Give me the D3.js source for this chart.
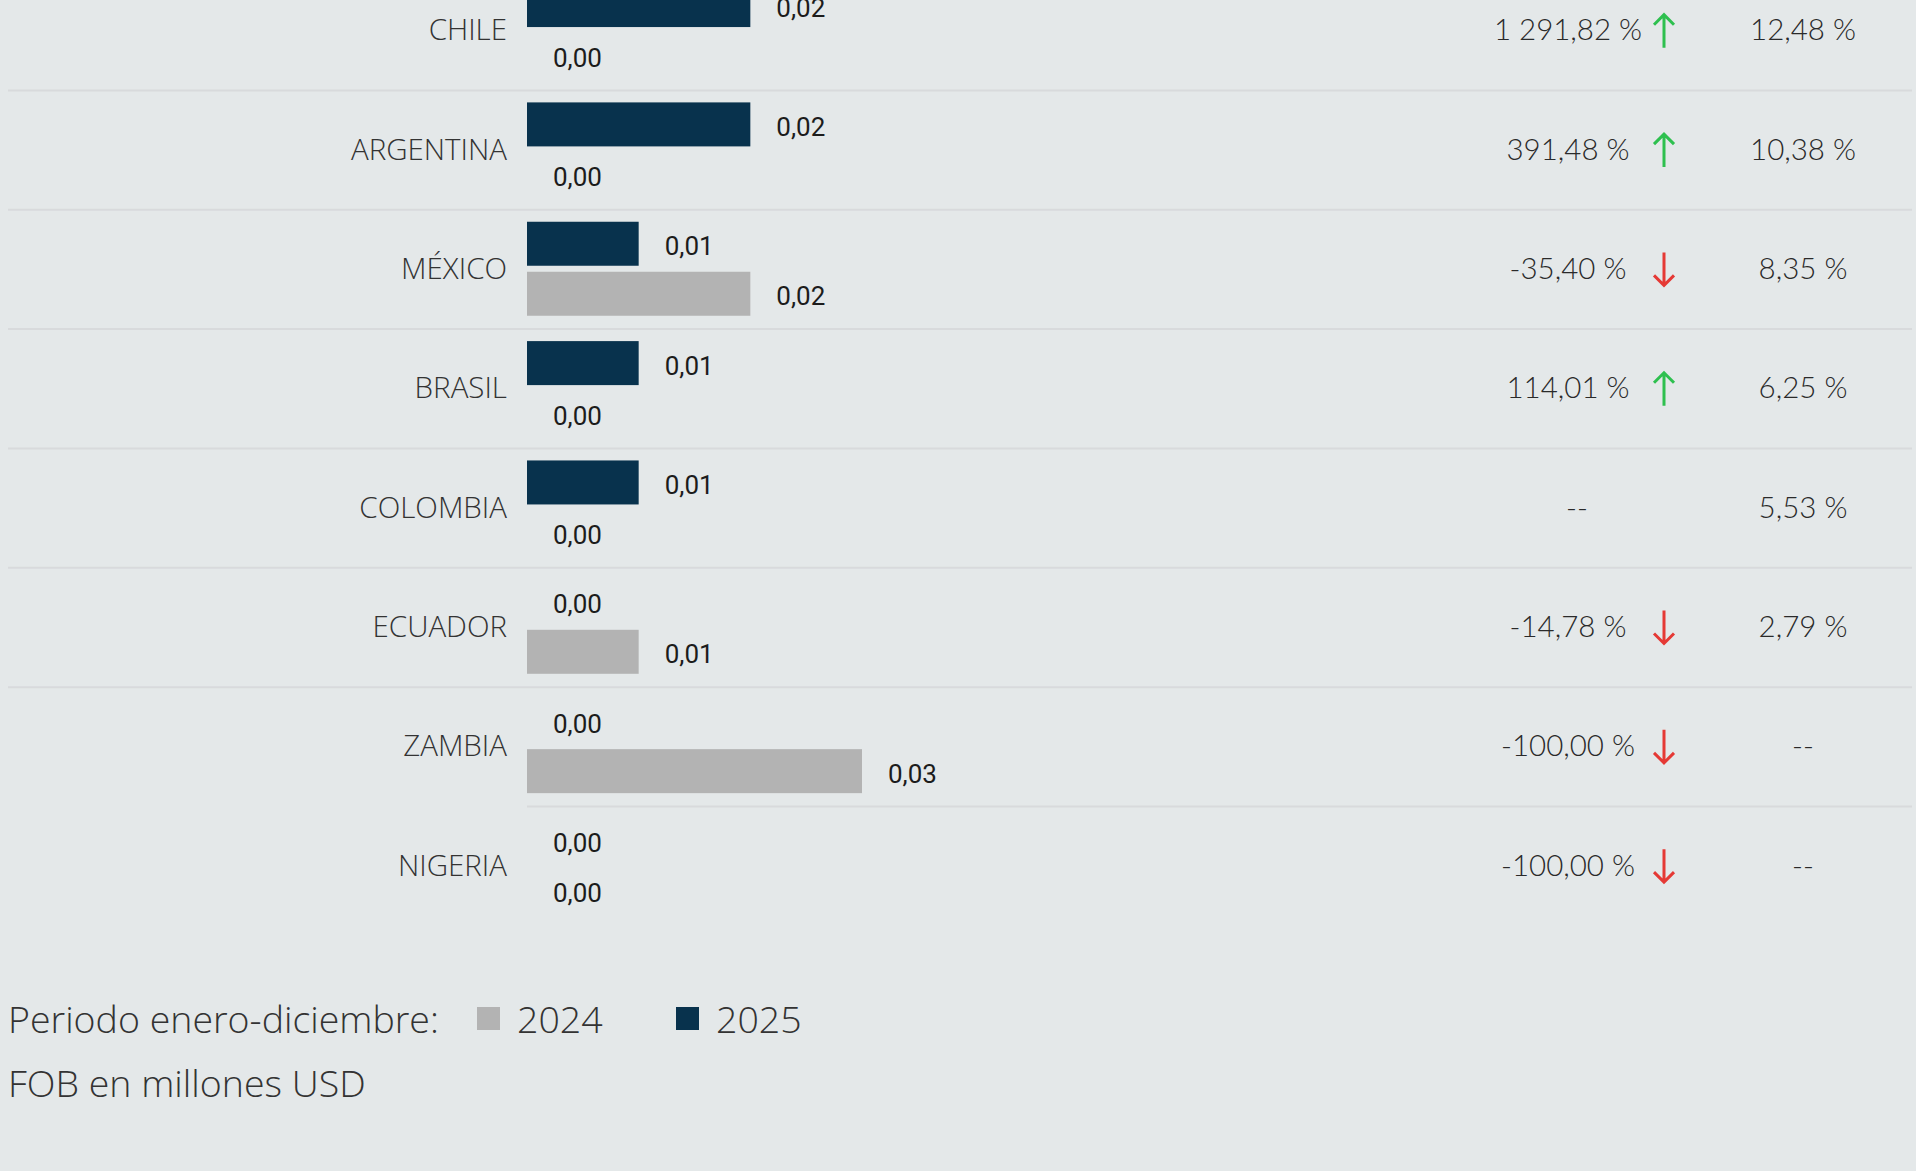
<!DOCTYPE html>
<html>
<head>
<meta charset="utf-8">
<script src="https://cdn.jsdelivr.net/npm/d3@7"></script>
<style>
  html, body { margin: 0; padding: 0; background: #e4e8e9; overflow: hidden; }
  svg { display: block; }
</style>
</head>
<body>
<svg id="chart" width="1916" height="1171"></svg>
<script>
// ---- data ----
const countries = ["CHILE", "ARGENTINA", "MÉXICO", "BRASIL", "COLOMBIA", "ECUADOR", "ZAMBIA", "NIGERIA"];
const series = ["2025", "2024"];
const values2025 = [0.02, 0.02, 0.01, 0.01, 0.01, 0.00, 0.00, 0.00];
const values2024 = [0.00, 0.00, 0.02, 0.00, 0.00, 0.01, 0.03, 0.00];
const variation = [1291.82, 391.48, -35.40, 114.01, null, -14.78, -100.00, -100.00];
const share = [12.48, 10.38, 8.35, 6.25, 5.53, 2.79, null, null];
const legendTitle = "Periodo enero-diciembre:";
const legendYears = ["2024", "2025"];
const unitNote = "FOB en millones USD";

// ---- styles ----
const colors = { "2025": "#08324d", "2024": "#b3b3b3" };
const bg = "#e4e8e9";
const W = 1916, H = 1171;

const locale = d3.formatLocale({ decimal: ",", thousands: " ", grouping: [3], currency: ["", ""], minus: "-" });
const fmt2 = locale.format(",.2f");

const svg = d3.select("#chart");
svg.append("rect").attr("width", W).attr("height", H).attr("fill", bg);

const rowH = 119.35;
const top0 = -28.95;
const y = d3.scaleBand().domain(countries).range([top0, top0 + rowH * countries.length]);
const ySub = d3.scaleBand().domain(series).range([12, 106]).paddingInner(0.12).paddingOuter(0);
const x = d3.scaleLinear().domain([0, 0.03]).range([527, 862]);

const rows = countries.map((c, i) => ({
  country: c, i,
  v: { "2025": values2025[i], "2024": values2024[i] },
  variation: variation[i], share: share[i]
}));

// separators
svg.append("g").selectAll("line").data(rows.slice(1)).join("line")
  .attr("x1", d => d.i === countries.length - 1 ? x(0) : 8)
  .attr("x2", 1912)
  .attr("y1", d => y(d.country))
  .attr("y2", d => y(d.country))
  .attr("stroke", "#d8dadc")
  .attr("stroke-width", 2);

const g = svg.append("g").selectAll("g").data(rows).join("g")
  .attr("transform", d => `translate(0,${y(d.country)})`);

const mid = y.bandwidth() / 2 - 2;

// country labels
g.append("text")
  .attr("x", 507)
  .attr("y", mid)
  .attr("text-anchor", "end")
  .attr("dominant-baseline", "central")
  .attr("font-family", "'Open Sans', sans-serif")
  .attr("font-weight", 300)
  .attr("font-size", 29.5)
  .attr("fill", "#333")
  .text(d => d.country);

// bars + value labels
series.forEach(s => {
  g.append("rect")
    .attr("x", x(0))
    .attr("y", ySub(s))
    .attr("width", d => x(d.v[s]) - x(0))
    .attr("height", ySub.bandwidth())
    .attr("fill", colors[s]);
  g.append("text")
    .attr("x", d => x(d.v[s]) + 26)
    .attr("y", ySub(s) + ySub.bandwidth() / 2 + 2.5)
    .attr("dominant-baseline", "central")
    .attr("font-family", "Roboto, sans-serif")
    .attr("font-size", 26)
    .attr("fill", "#1c1c1c")
    .text(d => fmt2(d.v[s]));
});

// variation column
g.append("text")
  .attr("x", d => d.variation === null ? 1577 : 1568)
  .attr("y", mid)
  .attr("text-anchor", "middle")
  .attr("dominant-baseline", "central")
  .attr("font-family", "Lato, sans-serif")
  .attr("font-weight", 300)
  .attr("font-size", 29.5)
  .attr("fill", "#2a2a2a")
  .text(d => d.variation === null ? "--" : fmt2(d.variation) + " %");

// arrows
g.filter(d => d.variation !== null).append("path")
  .attr("transform", `translate(1664,${y.bandwidth() / 2})`)
  .attr("d", d => d.variation >= 0
    ? "M0,17 L0,-16 M-10,-6 L0,-16 L10,-6"
    : "M0,-17 L0,16 M-10,6 L0,16 L10,6")
  .attr("fill", "none")
  .attr("stroke", d => d.variation >= 0 ? "#2ec04f" : "#e53935")
  .attr("stroke-width", 3);

// share column
g.append("text")
  .attr("x", 1803)
  .attr("y", mid)
  .attr("text-anchor", "middle")
  .attr("dominant-baseline", "central")
  .attr("font-family", "Lato, sans-serif")
  .attr("font-weight", 300)
  .attr("font-size", 29.5)
  .attr("fill", "#2a2a2a")
  .text(d => d.share === null ? "--" : fmt2(d.share) + " %");

// legend
const leg = svg.append("g").attr("font-family", "'Open Sans', sans-serif").attr("font-weight", 300).attr("font-size", 37.5).attr("fill", "#333");
leg.append("text").attr("x", 8).attr("y", 1032.5).text(legendTitle);
const legX = { "2024": 477, "2025": 676 };
legendYears.forEach(yr => {
  leg.append("rect").attr("x", legX[yr]).attr("y", 1007).attr("width", 23).attr("height", 23).attr("fill", colors[yr]);
  leg.append("text").attr("x", legX[yr] + 40).attr("y", 1032.5).text(yr);
});
leg.append("text").attr("x", 8).attr("y", 1096.5).text(unitNote);
</script>
</body>
</html>
